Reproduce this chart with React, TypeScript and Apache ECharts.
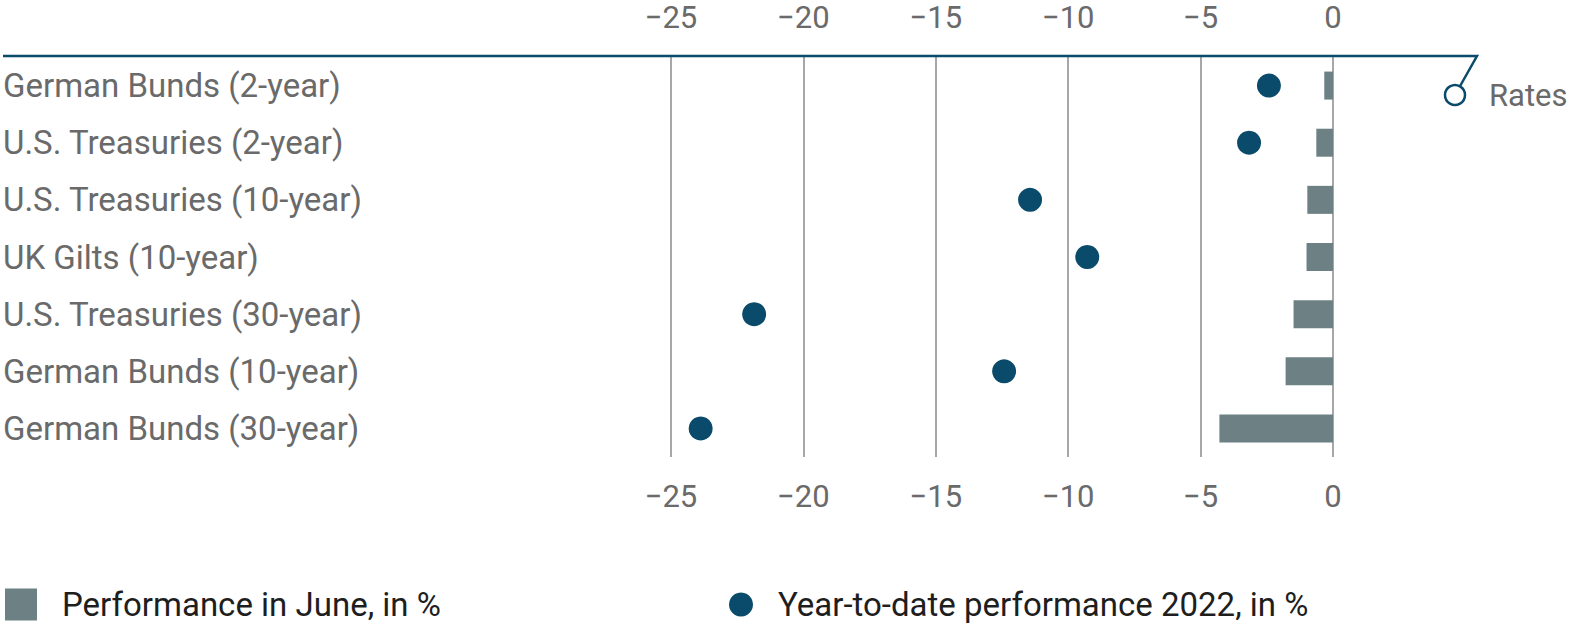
import React, { useEffect, useRef } from "react";
import * as echarts from "echarts";

const categories = [
  "German Bunds (2-year)",
  "U.S. Treasuries (2-year)",
  "U.S. Treasuries (10-year)",
  "UK Gilts (10-year)",
  "U.S. Treasuries (30-year)",
  "German Bunds (10-year)",
  "German Bunds (30-year)",
];
const juneValues = [-0.33, -0.63, -0.97, -1.0, -1.49, -1.79, -4.29];
const ytdValues = [-2.42, -3.17, -11.44, -9.28, -21.86, -12.42, -23.88];
const xTicks = [-25, -20, -15, -10, -5, 0];
const seriesNames = ["Performance in June, in %", "Year-to-date performance 2022, in %"];
const sectorLabel = "Rates";

const FONT = "Roboto, 'Noto Sans', sans-serif";
const DARK = "#0a4a6a";
const BAR = "#6d8185";
const GRAY = "#6a6a6a";

const fmt = (v: number) => (v < 0 ? "\u2212" + Math.abs(v) : String(v));

export default function App() {
  const ref = useRef<HTMLDivElement>(null);
  useEffect(() => {
    document.body.style.margin = "0";
    const chart = echarts.init(ref.current!, null, { renderer: "svg" });
    const xMin = xTicks[0];
    const xMax = xTicks[xTicks.length - 1];
    const axisCommon = {
      type: "value" as const,
      min: xMin,
      max: xMax,
      interval: 5,
      axisLine: { show: false },
      axisTick: { show: false },
      axisLabel: {
        formatter: fmt,
        color: GRAY,
        fontSize: 31,
        fontFamily: FONT,
        margin: 24,
      },
    };
    const legendText = { fontSize: 33, fontFamily: FONT, color: "#1e1e1e", padding: [0, 0, 0, 20] };
    chart.setOption({
      animation: false,
      grid: { left: 670, right: 241, top: 57, bottom: 170, containLabel: false },
      xAxis: [
        {
          ...axisCommon,
          position: "top",
          splitLine: { show: true, lineStyle: { color: "#8a8a8a", width: 1.5 } },
        },
        { ...axisCommon, position: "bottom", splitLine: { show: false } },
      ],
      yAxis: {
        type: "category",
        data: categories,
        inverse: true,
        axisLine: { show: false },
        axisTick: { show: false },
        splitLine: { show: false },
        axisLabel: {
          align: "left",
          margin: 668,
          color: GRAY,
          fontSize: 33,
          fontFamily: FONT,
          padding: [4, 0, 0, 0],
        },
      },
      legend: [
        {
          data: [{ name: seriesNames[0], icon: "rect" }],
          left: 5,
          top: 588,
          padding: 0,
          itemWidth: 32,
          itemHeight: 32,
          textStyle: legendText,
          selectedMode: false,
        },
        {
          data: [{ name: seriesNames[1], icon: "circle" }],
          left: 729,
          top: 588,
          padding: 0,
          itemWidth: 24,
          itemHeight: 24,
          textStyle: legendText,
          selectedMode: false,
        },
      ],
      series: [
        {
          name: seriesNames[0],
          type: "bar",
          xAxisIndex: 0,
          data: juneValues,
          barWidth: 28,
          itemStyle: { color: BAR },
          z: 3,
        },
        {
          name: seriesNames[1],
          type: "scatter",
          xAxisIndex: 0,
          data: ytdValues.map((v, i) => [v, categories[i]]),
          symbol: "circle",
          symbolSize: 24,
          itemStyle: { color: DARK, opacity: 1 },
          z: 4,
        },
      ],
      graphic: [
        {
          type: "polyline",
          shape: { points: [[3, 56], [1477, 56], [1455, 95]] },
          style: { stroke: DARK, lineWidth: 2.5, fill: null },
          z: 10,
        },
        {
          type: "circle",
          shape: { cx: 1455, cy: 95, r: 10 },
          style: { stroke: DARK, lineWidth: 2.5, fill: "#fff" },
          z: 11,
        },
        {
          type: "text",
          x: 1489,
          y: 95,
          style: {
            text: sectorLabel,
            fontSize: 31,
            fontFamily: FONT,
            fill: GRAY,
            verticalAlign: "middle",
          },
          z: 11,
        },
      ],
    });
    return () => chart.dispose();
  }, []);
  return <div ref={ref} style={{ width: 1574, height: 627 }} />;
}
